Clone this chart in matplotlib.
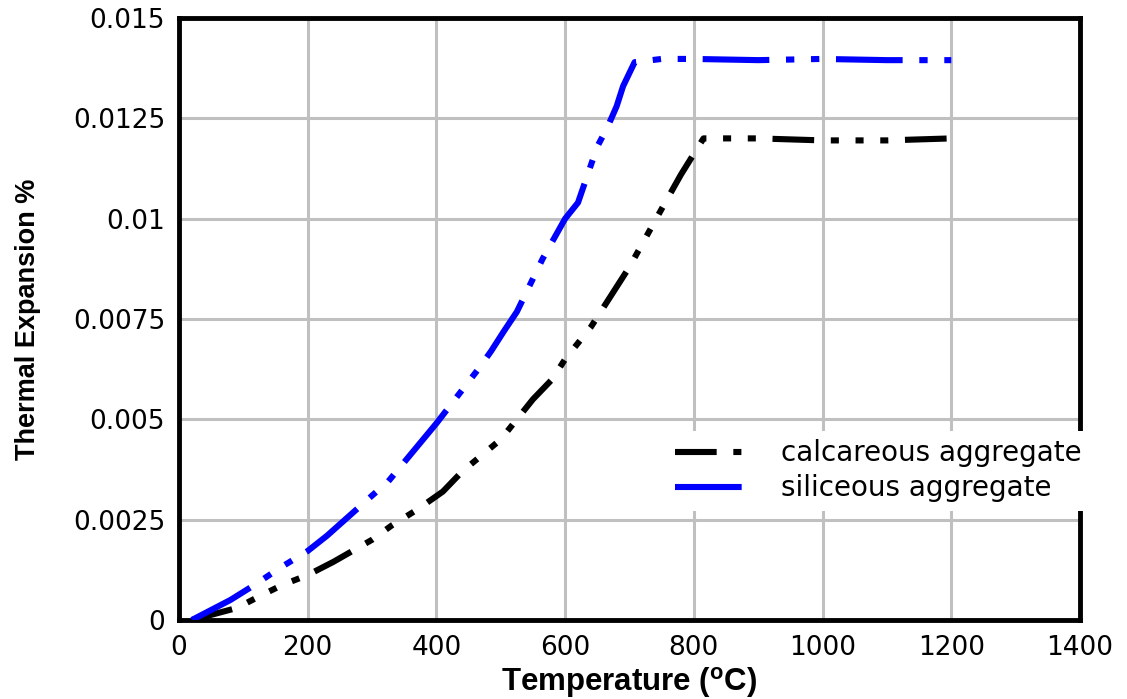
import matplotlib
matplotlib.use("Agg")
import matplotlib.pyplot as plt

plt.rcParams['lines.scale_dashes'] = False

# Data
calc_T = [20, 90, 120, 160, 200, 240, 300, 330, 370, 410, 440, 500, 525, 550,
          580, 600, 640, 660, 700, 745, 780, 815, 900, 1000, 1100, 1200]
calc_E = [0.0, 0.0003, 0.00055, 0.00087, 0.00112, 0.00145, 0.0020, 0.00235,
          0.00275, 0.0032, 0.0037, 0.0045, 0.0050, 0.0055, 0.0060, 0.0065,
          0.0073, 0.0078, 0.0088, 0.0101, 0.0111, 0.0120, 0.0120, 0.01195,
          0.01195, 0.0120]

sil_T = [20, 80, 120, 155, 200, 230, 300, 325, 400, 465, 485, 505, 525, 565,
         600, 620, 650, 665, 680, 690, 708, 750, 800, 900, 1000, 1100, 1200]
sil_E = [0.0, 0.0005, 0.0009, 0.00128, 0.00172, 0.0021, 0.0031, 0.00345,
         0.0049, 0.00625, 0.0067, 0.0072, 0.00768, 0.0090, 0.0100, 0.0104,
         0.0118, 0.01225, 0.0128, 0.0133, 0.0139, 0.01398, 0.01398, 0.01395,
         0.01398, 0.01395, 0.01395]

x_ticks = [0, 200, 400, 600, 800, 1000, 1200, 1400]
y_ticks = [0, 0.0025, 0.005, 0.0075, 0.01, 0.0125, 0.015]
y_ticklabels = ["0", "0.0025", "0.005", "0.0075", "0.01", "0.0125", "0.015"]

fig = plt.figure(figsize=(11.27, 6.99), dpi=100)
ax = fig.add_axes([179/1127, 1-620/699, (1080-179)/1127, (620-18)/699])

ax.plot(calc_T, calc_E, color='black', lw=4.4,
        dashes=(30, 12, 5.8, 12, 5.8, 12, 5.8, 12), solid_capstyle='butt',
        label='calcareous aggregate', zorder=3)
ax.plot(sil_T, sil_E, color='#0000ff', lw=4.4,
        dashes=(48, 12, 6, 12, 6, 12), solid_capstyle='butt',
        label='siliceous aggregate', zorder=3)

ax.set_xlim(0, 1400)
ax.set_ylim(0, 0.015)
ax.set_xticks(x_ticks)
ax.set_xticklabels([str(v) for v in x_ticks])
ax.set_yticks(y_ticks)
ax.set_yticklabels(y_ticklabels)
ax.grid(True, color='#c0c0c0', lw=2.2, zorder=0)
ax.set_axisbelow(True)
ax.tick_params(axis='y', length=0, pad=10)
ax.tick_params(axis='x', length=0, pad=11)
for lab in ax.get_xticklabels() + ax.get_yticklabels():
    lab.set_family('DejaVu Sans')
    lab.set_fontsize(19)
for s in ax.spines.values():
    s.set_linewidth(3.5)
    s.set_color('black')

ax.set_xlabel('Temperature ($\\mathregular{^{o}}$C)', fontsize=22.5,
              fontweight='bold', family='Liberation Sans')
ax.xaxis.set_label_coords(0.5, -0.075)
ax.set_ylabel('Thermal Expansion %', fontsize=19.5, fontweight='bold',
              family='Liberation Sans')
ax.yaxis.set_label_coords(-0.153, 0.5)

leg = ax.legend(loc='upper left', bbox_to_anchor=(0.526, 0.337),
                prop={'family': 'DejaVu Sans', 'size': 20},
                handlelength=2.9, handletextpad=0.9, labelspacing=0.25,
                frameon=True, facecolor='white', edgecolor='none',
                framealpha=1, borderpad=0.3, fancybox=False)

fig.savefig('out.png', dpi=100, facecolor='white')
